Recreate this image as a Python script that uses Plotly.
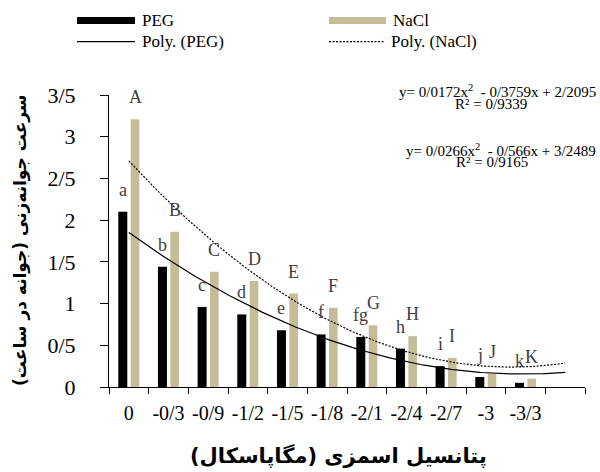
import plotly.graph_objects as go
import numpy as np

# ---------------- data ----------------
categories = ["0", "-0/3", "-0/9", "-1/2", "-1/5", "-1/8", "-2/1", "-2/4", "-2/7", "-3", "-3/3"]
peg = [2.10, 1.44, 0.96, 0.87, 0.68, 0.63, 0.60, 0.46, 0.25, 0.12, 0.05]
nacl = [3.21, 1.86, 1.38, 1.27, 1.12, 0.95, 0.74, 0.61, 0.35, 0.16, 0.10]
peg_letters = ["a", "b", "c", "d", "e", "f", "fg", "h", "i", "j", "k"]
nacl_letters = ["A", "B", "C", "D", "E", "F", "G", "H", "I", "J", "K"]
peg_coef = [0.0172, -0.3759, 2.2095]   # quadratic trend (a, b, c)
nacl_coef = [0.0266, -0.566, 3.2489]
peg_eq = ["y= 0/0172x<sup>2</sup>  - 0/3759x + 2/2095", "R² = 0/9339"]
nacl_eq = ["y= 0/0266x<sup>2</sup>  - 0/566x + 3/2489", "R² = 0/9165"]
y_ticks = [0, 0.5, 1, 1.5, 2, 2.5, 3, 3.5]
y_ticktext = ["0", "0/5", "1", "1/5", "2", "2/5", "3", "3/5"]
n_slots = 12  # one empty slot at the end (trend line extends to it)

# ---------------- layout constants ----------------
W, H = 600, 472
ML, MR, MT, MB = 109, 15, 95, 85
PW, PH = W - ML - MR, H - MT - MB
TAN = "#C4BD97"
SERIF = "Liberation Serif, Times New Roman, serif"
ARAB = "DejaVu Sans, sans-serif"


def px(xp):
    return (xp - ML) / PW


def py(yp):
    return (H - MB - yp) / PH


xs = np.arange(1, len(categories) + 1)
fig = go.Figure()
fig.add_trace(go.Bar(x=xs, y=peg, width=0.227, offset=-0.266, marker_color="black",
                     marker_line_width=0, name="PEG", showlegend=False))
fig.add_trace(go.Bar(x=xs, y=nacl, width=0.217, offset=0.047, marker_color=TAN,
                     marker_line_width=0, name="NaCl", showlegend=False))

xt = np.linspace(1, n_slots, 200)
fig.add_trace(go.Scatter(x=xt, y=np.polyval(peg_coef, xt), mode="lines",
                         line=dict(color="black", width=1.2), name="Poly. (PEG)", showlegend=False))
fig.add_trace(go.Scatter(x=xt, y=np.polyval(nacl_coef, xt), mode="lines",
                         line=dict(color="black", width=1.2, dash="2px,1.5px"),
                         name="Poly. (NaCl)", showlegend=False))

annotations = []
for i, (v, t) in enumerate(zip(peg, peg_letters)):
    annotations.append(dict(x=xs[i] - 0.153, y=v, xref="x", yref="y", text=t, showarrow=False,
                            yanchor="bottom", yshift=10, font=dict(family=SERIF, size=18, color="#404040")))
for i, (v, t) in enumerate(zip(nacl, nacl_letters)):
    annotations.append(dict(x=xs[i] + 0.156, y=v, xref="x", yref="y", text=t, showarrow=False,
                            yanchor="bottom", yshift=10, font=dict(family=SERIF, size=18, color="#404040")))

# equations
for (txt, xc, yc) in [(peg_eq[0], 497.5, 91.0), (peg_eq[1], 491, 104),
                      (nacl_eq[0], 500.5, 149.5), (nacl_eq[1], 492, 161.5)]:
    annotations.append(dict(x=px(xc), y=py(yc), xref="paper", yref="paper", text=txt, showarrow=False,
                            xanchor="center", yanchor="middle", borderpad=0,
                            font=dict(family=SERIF, size=15, color="black")))

# axis titles
annotations.append(dict(x=px(338), y=py(455), xref="paper", yref="paper",
                        text="<b>پتانسیل اسمزی (مگاپاسکال)</b>", showarrow=False,
                        xanchor="center", yanchor="middle", font=dict(family=ARAB, size=21, color="black")))
annotations.append(dict(x=px(20), y=py(240), xref="paper", yref="paper",
                        text="<b>سرعت جوانه‌زنی (جوانه در ساعت)</b>", showarrow=False, textangle=-90,
                        xanchor="center", yanchor="middle", font=dict(family=ARAB, size=17, color="black")))

# custom legend
shapes = []
legend_items = [
    ("PEG", "bar", "black", 77, 135, 20.5),
    ("NaCl", "bar", TAN, 329, 386, 20.5),
    ("Poly. (PEG)", "solid", "black", 77, 135, 41.7),
    ("Poly. (NaCl)", "dot", "black", 329, 384, 41.7),
]
for name, kind, col, x0, x1, yc in legend_items:
    if kind == "bar":
        shapes.append(dict(type="rect", xref="paper", yref="paper", x0=px(x0), x1=px(x1),
                           y0=py(yc - 3.5), y1=py(yc + 3.5), fillcolor=col, line=dict(width=0)))
    else:
        shapes.append(dict(type="line", xref="paper", yref="paper", x0=px(x0), x1=px(x1),
                           y0=py(yc), y1=py(yc),
                           line=dict(color=col, width=1.2, dash="solid" if kind == "solid" else "2px,1.5px")))
    annotations.append(dict(x=px(x1 + 5), y=py(yc), xref="paper", yref="paper", text=name, showarrow=False,
                            xanchor="left", yanchor="middle", font=dict(family=SERIF, size=17, color="black")))

fig.update_layout(
    width=W, height=H, margin=dict(l=ML, r=MR, t=MT, b=MB),
    paper_bgcolor="white", plot_bgcolor="white", barmode="overlay",
    annotations=annotations, shapes=shapes, showlegend=False,
    xaxis=dict(range=[0.5, n_slots + 0.5], tickvals=list(xs), ticktext=categories, ticks="",
               showline=True, linecolor="black", linewidth=1, showgrid=False, zeroline=False,
               tickfont=dict(family=SERIF, size=20, color="black"), ticklabelstandoff=8,
               minor=dict(tick0=0.5, dtick=1, ticks="outside", ticklen=6, tickcolor="black", tickwidth=1)),
    yaxis=dict(range=[0, 3.5], tickvals=y_ticks, ticktext=y_ticktext, ticks="outside", ticklen=8,
               tickcolor="black", showline=True, linecolor="black", linewidth=1, showgrid=False,
               zeroline=False, tickfont=dict(family=SERIF, size=22, color="black"), ticklabelstandoff=20),
)

fig.write_html("out.html", config={"displayModeBar": False},
               post_script="document.body.style.margin='0px';")
